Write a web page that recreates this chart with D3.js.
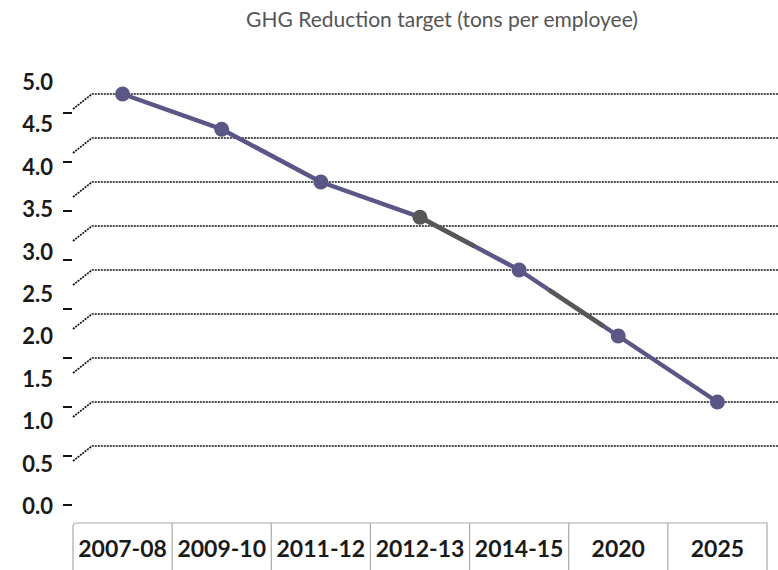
<!DOCTYPE html>
<html>

<head>
  <meta charset="utf-8">
  <style>
    body {
      margin: 0;
      background-color: #fff;
      font-family: 'Lato', sans-serif;
    }

    .title {
      font-size: 21px;
      fill: #555;
      text-anchor: middle;
    }

    .ylabel {
      font-size: 22px;
      font-weight: bold;
      fill: #1a1a1a;
      text-anchor: end;
    }

    .xlabel {
      font-size: 23px;
      font-weight: bold;
      fill: #1a1a1a;
      text-anchor: middle;
    }

    .grid {
      stroke: #111;
      stroke-width: 1.7;
      stroke-dasharray: 2 1;
      fill: none;
    }
  </style>
</head>

<body>
  <div id="chart"></div>

  <script src="https://d3js.org/d3.v7.min.js"></script>
  <script>
    var width = 778,
      height = 570;

    // chart data
    var categories = ['2007-08', '2009-10', '2011-12', '2012-13', '2014-15', '2020', '2025'];
    var values = [4.5, 4.1, 3.5, 3.1, 2.5, 1.75, 1.0];
    var yTickLabels = ['0.0', '0.5', '1.0', '1.5', '2.0', '2.5', '3.0', '3.5', '4.0', '4.5', '5.0'];
    var gridValues = [0.5, 1.0, 1.5, 2.0, 2.5, 3.0, 3.5, 4.0, 4.5];
    var tickValues = [0, 0.5, 1.0, 1.5, 2.0, 2.5, 3.0, 3.5, 4.0];
    var titleText = 'GHG Reduction target (tons per employee)';

    var colors = {
      line: '#5a5787',
      gray: '#575757'
    };

    var svg = d3.select('#chart').append('svg')
      .attr('width', width)
      .attr('height', height);

    var x = d3.scaleBand()
      .domain(categories)
      .range([73, 767]);

    // back wall (gridlines and data)
    var y = d3.scaleLinear()
      .domain([0, 5])
      .range([490, 50]);

    // front of the axis: labels and tick marks sit in their own perspective
    var yLabel = d3.scaleLinear()
      .domain([0, 5])
      .range([506, 82]);

    var yTick = d3.scaleLinear()
      .domain([0, 5])
      .range([505, 15]);

    svg.append('text')
      .attr('class', 'title')
      .attr('x', 442)
      .attr('y', 27)
      .text(titleText);

    // gridlines with the slanted bit on the side wall
    svg.append('g').selectAll('path')
      .data(gridValues)
      .enter().append('path')
      .attr('class', 'grid')
      .attr('d', function(d) {
        return 'M73,' + (y(d) + 15) + 'L92,' + y(d) + 'L' + width + ',' + y(d);
      });

    svg.append('g').selectAll('line')
      .data(tickValues)
      .enter().append('line')
      .attr('x1', 63)
      .attr('x2', 72)
      .attr('y1', function(d) { return yTick(d); })
      .attr('y2', function(d) { return yTick(d); })
      .attr('stroke', '#111')
      .attr('stroke-width', 2);

    svg.append('g').selectAll('text')
      .data(yTickLabels)
      .enter().append('text')
      .attr('class', 'ylabel')
      .attr('x', 53)
      .attr('y', function(d) { return yLabel(+d); })
      .attr('dy', '0.36em')
      .text(function(d) { return d; });

    // category box
    var box = svg.append('g');
    box.append('path')
      .attr('d', 'M73,' + (height + 2) + 'L73,527Q73,523 77,523L767,523L767,' + (height + 2))
      .attr('fill', 'none')
      .attr('stroke', '#aaa')
      .attr('stroke-width', 1.2);

    box.selectAll('line')
      .data(categories.slice(1))
      .enter().append('line')
      .attr('x1', function(d) { return x(d); })
      .attr('x2', function(d) { return x(d); })
      .attr('y1', 523)
      .attr('y2', height)
      .attr('stroke', '#aaa')
      .attr('stroke-width', 1.2);

    box.selectAll('text')
      .data(categories)
      .enter().append('text')
      .attr('class', 'xlabel')
      .attr('x', function(d) { return x(d) + x.bandwidth() / 2; })
      .attr('y', 549)
      .attr('dy', '0.36em')
      .text(function(d) { return d; });

    // series
    var points = categories.map(function(c, i) {
      return [x(c) + x.bandwidth() / 2, y(values[i])];
    });

    svg.append('path')
      .datum(points)
      .attr('d', d3.line())
      .attr('fill', 'none')
      .attr('stroke', colors.line)
      .attr('stroke-width', 4.5)
      .attr('stroke-linejoin', 'round');

    // darker stretches in the rendered line (segment index, from, to)
    var graySpans = [[3, 0, 0.55], [4, 0.3, 0.85]];
    svg.append('g').selectAll('path')
      .data(graySpans)
      .enter().append('path')
      .attr('d', function(s) {
        var a = points[s[0]], b = points[s[0] + 1];
        var p0 = [a[0] + (b[0] - a[0]) * s[1], a[1] + (b[1] - a[1]) * s[1]];
        var p1 = [a[0] + (b[0] - a[0]) * s[2], a[1] + (b[1] - a[1]) * s[2]];
        return 'M' + p0 + 'L' + p1;
      })
      .attr('stroke', colors.gray)
      .attr('stroke-width', 4.5)
      .attr('fill', 'none');

    svg.append('g').selectAll('circle')
      .data(points)
      .enter().append('circle')
      .attr('cx', function(d) { return d[0]; })
      .attr('cy', function(d) { return d[1]; })
      .attr('r', 7.5)
      .attr('fill', function(d, i) { return i === 3 ? colors.gray : colors.line; });
  </script>

</body>

</html>
